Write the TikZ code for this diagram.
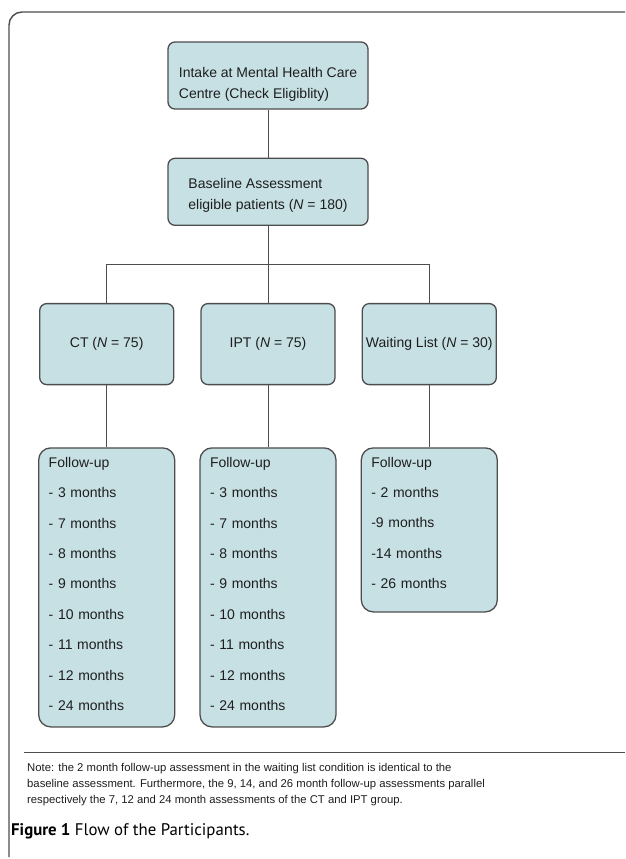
\documentclass[tikz,border=0pt]{standalone}
\usepackage{fontspec}
\setmainfont{Liberation Sans}
\newfontfamily\capfont{PT Sans}
\usepackage{tikz}
\usetikzlibrary{positioning,calc}
\definecolor{boxFill}{HTML}{C7E0E4}
\definecolor{boxLine}{HTML}{4D4D4D}
\definecolor{txtGrey}{HTML}{1E1E1E}
\newcommand{\nN}{\textit{N}}
\newcommand{\fuNode}[5][0pt]{\node[fuBox, minimum height=#4, below=62pt of #2] (#3) {Follow-up\\#5\rule[-#1]{0pt}{0pt}};
	\draw[link] (#2) -- (#3);}

\begin{document}
\begin{tikzpicture}[x=1pt, y=-1pt, every node/.style={text=txtGrey},
		flowBox/.style={draw=boxLine, fill=boxFill, line width=1.3pt, rounded corners=7pt,
			font=\fontsize{14}{21}\selectfont, align=left, inner sep=2pt},
		groupBox/.style={flowBox, minimum width=134pt, minimum height=81pt},
		fuBox/.style={flowBox, rounded corners=12pt, font=\fontsize{14}{30.4}\selectfont,
			text width=116pt, inner xsep=10pt, inner ysep=6pt}, 
		link/.style={draw=boxLine, line width=0.9pt}]
	\useasboundingbox (0,0) rectangle (625,859);
	\draw[boxLine, line width=1.4pt, rounded corners=13pt] (9,857) -- (9,12) -- (625,12);
	\node[flowBox, minimum width=200pt, minimum height=67pt] (intake) at (268,75.5)
		{\rule{0pt}{28pt}Intake at Mental Health Care\\Centre (Check Eligiblity)};
	\node[flowBox, minimum width=200pt, minimum height=67pt, below=48pt of intake] (baseline)
		{\rule{0pt}{18pt}Baseline Assessment\\eligible patients (\nN{} = 180)};
	\node[groupBox, below=77pt of baseline] (ipt) {IPT (\nN{} = 75)};
	\node[groupBox, left=26pt of ipt] (ct) {CT (\nN{} = 75)};
	\node[groupBox, right=26pt of ipt] (wait) {Waiting List (\nN{} = 30)};
	\draw[link] (intake) -- (baseline);
	\coordinate (split) at ($(baseline.south)!0.5!(ipt.north)$);
	\draw[link] (baseline) -- (ipt);
	\draw[link] (ct.north) -- (ct.north |- split) -- (wait.north |- split) -- (wait.north);
	\fuNode[7pt]{ct}{ctFollow}{279pt}{- 3 months\\- 7 months\\- 8 months\\- 9 months\\- 10 months\\- 11 months\\- 12 months\\- 24 months}
	\fuNode[7pt]{ipt}{iptFollow}{279pt}{- 3 months\\- 7 months\\- 8 months\\- 9 months\\- 10 months\\- 11 months\\- 12 months\\- 24 months}
	\fuNode[14pt]{wait}{waitFollow}{164pt}{- 2 months\\-9 months\\-14 months\\- 26 months}
	\draw[boxLine, line width=0.9pt] (24,752) -- (625,752);
	\node[anchor=base west, inner sep=0pt, align=left, font=\fontsize{11.3}{16}\selectfont] (note) at (27,803)
		{Note: the 2 month follow-up assessment in the waiting list condition is identical to the\\
		baseline assessment. Furthermore, the 9, 14, and 26 month follow-up assessments parallel\\
		respectively the 7, 12 and 24 month assessments of the CT and IPT group.};
	\node[anchor=base west, inner sep=0pt, text=black, font=\capfont\fontsize{16.8}{20}\selectfont] (caption) at (11,835)
		{\textbf{Figure 1} Flow of the Participants.};
\end{tikzpicture}
\end{document}
